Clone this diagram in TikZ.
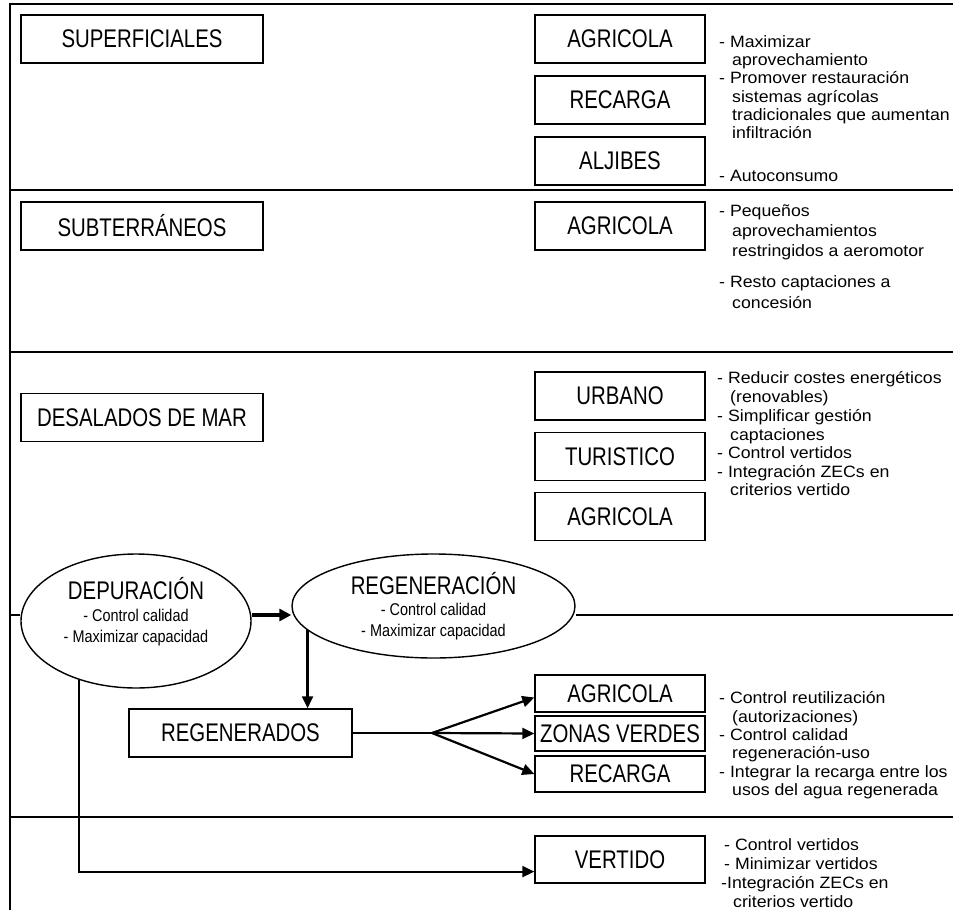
\documentclass[tikz,border=0pt]{standalone}
\usepackage{fontspec}
\setmainfont{Liberation Sans}
\newfontfamily\labelfam[FakeStretch=0.8]{Liberation Sans}
\newfontfamily\notefam[FakeStretch=1.08]{Liberation Sans}
\newfontfamily\subfam[FakeStretch=0.85]{Liberation Sans}
\usetikzlibrary{arrows.meta,shapes.geometric,calc}

\begin{document}
\begin{tikzpicture}[x=1pt,y=-1pt,
  frameline/.style={line width=1.5pt,black},
  lbox/.style={draw,rectangle,line width=1.4pt,inner sep=0pt,
    font=\labelfam\fontsize{25.5}{30}\selectfont},
  wide/.style={minimum width=242pt,minimum height=48pt},
  usebox/.style={minimum width=170pt,minimum height=48pt},
  smallbox/.style={minimum width=170pt,minimum height=36pt},
  oval/.style={draw,ellipse,line width=1.4pt,inner sep=0pt},
  title/.style={anchor=base,inner sep=0pt,font=\labelfam\fontsize{25.5}{30}\selectfont},
  subline/.style={anchor=base,inner sep=0pt,font=\subfam\fontsize{17}{21}\selectfont},
  note/.style={anchor=base west,inner sep=0pt,font=\notefam\fontsize{16.4}{19}\selectfont},
  link/.style={line width=2.2pt},
  arr/.style={line width=2.2pt,-{Triangle[length=12pt,width=11pt]}},
  bigarr/.style={line width=3.4pt,-{Triangle[length=12pt,width=12pt]}}
]
\useasboundingbox (0,0) rectangle (953,910);

% outer frame and band separators
\draw[frameline] (10,910) -- (10,4) -- (953,4);
\draw[frameline] (10,190) -- (953,190);
\draw[frameline] (10,352) -- (953,352);
\draw[frameline] (10,817) -- (953,817);

% ---------- surface water ----------
\node[lbox,wide] (sup) at (142,39) {SUPERFICIALES};
\node[lbox,usebox] (agr1) at (620,39) {AGRICOLA};
\node[lbox,usebox] (rec1) at (620,100) {RECARGA};
\node[lbox,usebox] (alj) at (620,161) {ALJIBES};
\node[note] (t1) at (719,47) {- Maximizar};
\node[note] (t2) at (732,65) {aprovechamiento};
\node[note] (t3) at (719,83) {- Promover restauración};
\node[note] (t4) at (732,102) {sistemas agrícolas};
\node[note] (t5) at (732,120) {tradicionales que aumentan};
\node[note] (t6) at (732,138) {infiltración};
\node[note] (t7) at (719,181) {- Autoconsumo};

% ---------- groundwater ----------
\node[lbox,wide] (sub) at (142,226) {SUBTERRÁNEOS};
\node[lbox,usebox] (agr2) at (620,226) {AGRICOLA};
\node[note] (s1) at (719,216) {- Pequeños};
\node[note] (s2) at (732,236) {aprovechamientos};
\node[note] (s3) at (732,256) {restringidos a aeromotor};
\node[note] (s4) at (719,287) {- Resto captaciones a};
\node[note] (s5) at (732,308) {concesión};

% ---------- desalination ----------
\node[lbox,wide] (des) at (142,417.5) {DESALADOS DE MAR};
\node[lbox,usebox] (urb) at (620,396) {URBANO};
\node[lbox,usebox] (tur) at (620,456.5) {TURISTICO};
\node[lbox,usebox] (agr3) at (620,516.5) {AGRICOLA};
\node[note] (d1) at (717,383) {- Reducir costes energéticos};
\node[note] (d2) at (730,402) {(renovables)};
\node[note] (d3) at (717,421) {- Simplificar gestión};
\node[note] (d4) at (730,440) {captaciones};
\node[note] (d5) at (717,458) {- Control vertidos};
\node[note] (d6) at (717,477) {- Integración ZECs en};
\node[note] (d7) at (730,495) {criterios vertido};

% ---------- treatment and reuse ----------
\node[oval,minimum width=230pt,minimum height=134pt] (dep) at (136,621) {};
\node[title] (depT) at (136,599) {DEPURACIÓN};
\node[subline] (depA) at (136,621) {- Control calidad};
\node[subline] (depB) at (136,642) {- Maximizar capacidad};

\node[oval,minimum width=283pt,minimum height=104pt] (reg) at (433.5,606) {};
\node[title] (regT) at (433.5,594) {REGENERACIÓN};
\node[subline] (regA) at (433.5,615) {- Control calidad};
\node[subline] (regB) at (433.5,636) {- Maximizar capacidad};

\coordinate (sepL) at (10,615);
\coordinate (sepR) at (953,615);
\draw[frameline] (sepL) -- (sepL -| dep.west);
\draw[frameline] (sepR -| reg.east) -- (sepR);

\node[lbox,minimum width=223pt,minimum height=48pt] (rgd) at (240.5,733) {REGENERADOS};
\node[lbox,smallbox,minimum height=37pt] (agr4) at (620,693.5) {AGRICOLA};
\node[lbox,smallbox,minimum height=35pt] (zv) at (620,733.5) {ZONAS VERDES};
\node[lbox,smallbox] (rec4) at (620,774) {RECARGA};
\node[note] (r1) at (719,703) {- Control reutilización};
\node[note] (r2) at (732,722) {(autorizaciones)};
\node[note] (r3) at (719,740) {- Control calidad};
\node[note] (r4) at (732,758) {regeneración-uso};
\node[note] (r5) at (719,777) {- Integrar la recarga entre los};
\node[note] (r6) at (732,795) {usos del agua regenerada};

% ---------- discharge ----------
\node[lbox,minimum width=170pt,minimum height=47pt] (ver) at (620,859.5) {VERTIDO};
\node[note] (v1) at (724,850) {- Control vertidos};
\node[note] (v2) at (724,869) {- Minimizar vertidos};
\node[note] (v3) at (721,888) {-Integración ZECs en};
\node[note] (v4) at (733,907) {criterios vertido};

% ---------- flows ----------
\draw[bigarr] (dep.east |- sepL) -- (reg.west |- sepL);
\draw[arr] (reg.191) -- (reg.191 |- rgd.north);
\coordinate (fork) at (432,733);
\draw[link] (rgd.east) -- (fork);
\draw[arr] (fork) -- ($(agr4.west)+(0,4)$);
\draw[arr] (fork) -- (zv.west);
\draw[arr] (fork) -- (rec4.west);
\coordinate (vin) at ($(ver.south west)!0.25!(ver.north west)$);
\draw[arr] (dep.226) |- (vin);
\end{tikzpicture}
\end{document}
